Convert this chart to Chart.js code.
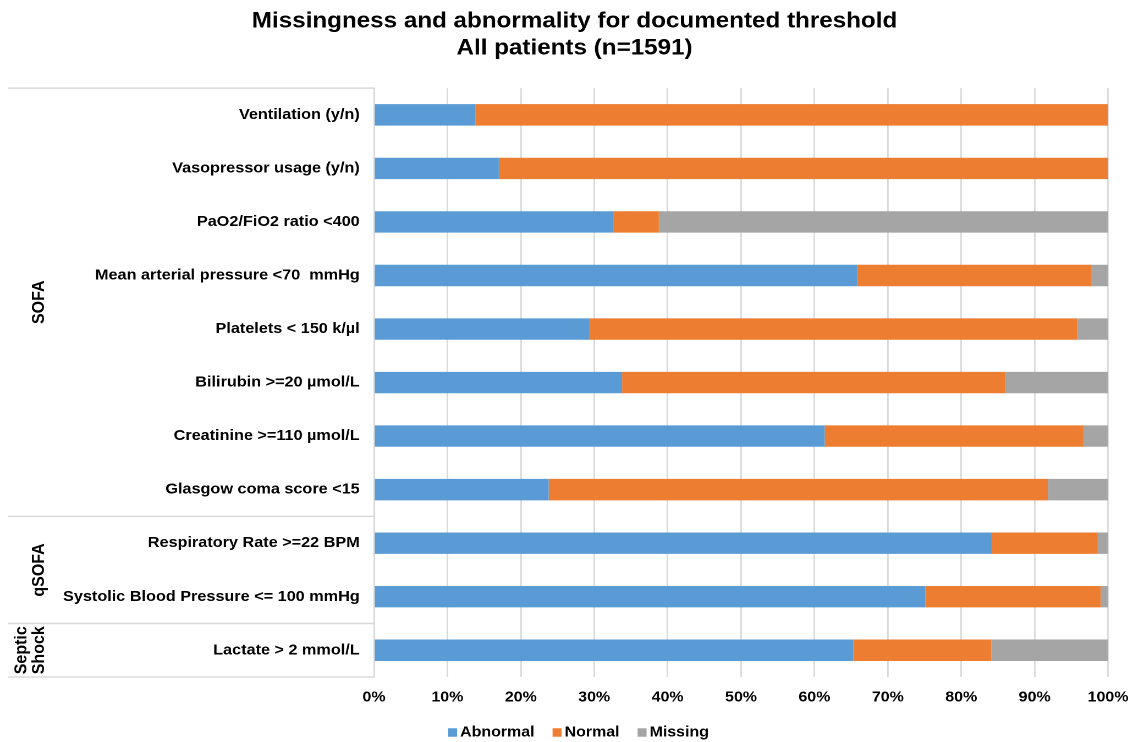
<!DOCTYPE html>
<html>
<head>
<meta charset="utf-8">
<script src="https://cdn.jsdelivr.net/npm/chart.js@4"></script>
<style>
html,body{margin:0;padding:0;background:#fff;overflow:hidden;}
#wrap{width:1030px;height:742px;transform:scaleX(1.1);transform-origin:0 0;}
</style>
</head>
<body>
<div id="wrap"><canvas id="c"></canvas></div>
<script>
const categories = [
  'Ventilation (y/n)',
  'Vasopressor usage (y/n)',
  'PaO2/FiO2 ratio <400',
  'Mean arterial pressure <70  mmHg',
  'Platelets < 150 k/µl',
  'Bilirubin >=20 µmol/L',
  'Creatinine >=110 µmol/L',
  'Glasgow coma score <15',
  'Respiratory Rate >=22 BPM',
  'Systolic Blood Pressure <= 100 mmHg',
  'Lactate > 2 mmol/L'
];
const abnormal = [13.8, 17.0, 32.6, 65.9, 29.3, 33.8, 61.4, 23.8, 84.2, 75.1, 65.3];
const normal   = [86.2, 83.0,  6.2, 31.8, 66.5, 52.2, 35.3, 68.0, 14.4, 23.9, 18.8];
const missing  = [ 0.0,  0.0, 61.2,  2.3,  4.2, 14.0,  3.3,  8.2,  1.4,  1.0, 15.9];
const groupNames = [['SOFA'], ['qSOFA'], ['Septic', 'Shock']];
const groupSizes = [8, 2, 1];
const xTicks = [0,10,20,30,40,50,60,70,80,90,100];
const titleLines = ['Missingness and abnormality for documented threshold', 'All patients (n=1591)'];

const FONT = "'Liberation Sans', Arial, sans-serif";
const SX = 1.1;
const PAD_LEFT = 37.3;
const AXIS_LEFT = 340;

const groupPlugin = {
  id: 'groups',
  afterDraw(chart) {
    const ctx = chart.ctx;
    const y = chart.scales.y;
    const area = chart.chartArea;
    const step = y.getPixelForValue(1) - y.getPixelForValue(0);
    const x0 = 7.5, x1 = area.left;
    ctx.save();
    ctx.strokeStyle = '#d9d9d9';
    ctx.lineWidth = 1.5;
    let idx = 0;
    const bounds = [y.getPixelForValue(0) - step/2];
    groupSizes.forEach(s => { idx += s; bounds.push(y.getPixelForValue(idx - 1) + step/2); });
    bounds.forEach(b => {
      ctx.beginPath(); ctx.moveTo(x0, b); ctx.lineTo(x1, b); ctx.stroke();
    });
    ctx.fillStyle = '#000';
    ctx.font = "bold 16px " + FONT;
    ctx.textAlign = 'center';
    ctx.textBaseline = 'middle';
    for (let g = 0; g < groupNames.length; g++) {
      const cy = (bounds[g] + bounds[g+1]) / 2;
      const lines = groupNames[g];
      const lh = 16.4;
      const cx = 35.8 - (lines.length - 1) * lh;
      ctx.save();
      ctx.translate(cx, cy);
      ctx.rotate(-Math.PI/2);
      lines.forEach((t, i) => ctx.fillText(t, 0, i * lh));
      ctx.restore();
    }
    // legend
    ctx.font = "bold 14.5px " + FONT;
    ctx.textAlign = 'left';
    const boxW = 8.2, boxH = 8.5, gap = 2.7, spacing = 16.4;
    const items = chart.data.datasets.map(d => ({ label: d.label, color: d.backgroundColor, w: ctx.measureText(d.label).width }));
    let total = 0;
    items.forEach((it, i) => { total += boxW + gap + it.w + (i < items.length - 1 ? spacing : 0); });
    let x = 578.5 / SX - total / 2;
    const ly = 732.5;
    items.forEach(it => {
      ctx.fillStyle = it.color;
      ctx.fillRect(x, ly - boxH / 2, boxW, boxH);
      x += boxW + gap;
      ctx.fillStyle = '#000';
      ctx.fillText(it.label, x, ly);
      x += it.w + spacing;
    });
    ctx.restore();
  }
};

new Chart(document.getElementById('c'), {
  type: 'bar',
  data: {
    labels: categories,
    datasets: [
      { label: 'Abnormal', data: abnormal, backgroundColor: '#5B9BD5' },
      { label: 'Normal', data: normal, backgroundColor: '#ED7D31' },
      { label: 'Missing', data: missing, backgroundColor: '#A5A5A5' }
    ]
  },
  options: {
    indexAxis: 'y',
    responsive: true,
    maintainAspectRatio: false,
    animation: false,
    devicePixelRatio: 2,
    datasets: { bar: { barPercentage: 0.8, categoryPercentage: 0.5 } },
    layout: { padding: { left: PAD_LEFT, right: 22.7, top: 8, bottom: 0 } },
    plugins: {
      title: {
        display: true,
        text: titleLines,
        color: '#000',
        font: { family: FONT, size: 22, weight: 'bold', lineHeight: 1.23 },
        padding: { top: 0, bottom: 26 }
      },
      legend: { display: false },
      tooltip: { enabled: false }
    },
    scales: {
      x: {
        stacked: true,
        min: 0, max: 100,
        afterBuildTicks(scale) { scale.ticks = xTicks.map(v => ({ value: v })); },
        afterFit(scale) { scale.height = 65; scale.paddingRight = 0; scale.paddingLeft = 0; },
        ticks: {
          color: '#000',
          padding: 12,
          font: { family: FONT, size: 14.5, weight: 'bold' },
          callback: v => v + '%'
        },
        grid: { color: '#d9d9d9', lineWidth: 1.4, drawTicks: false },
        border: { display: false }
      },
      y: {
        stacked: true,
        afterFit(scale) { scale.width = AXIS_LEFT - PAD_LEFT; scale.paddingTop = 0; scale.paddingBottom = 0; },
        ticks: {
          color: '#000',
          padding: 13,
          font: { family: FONT, size: 14.75, weight: 'bold' }
        },
        grid: { display: false, drawTicks: false },
        border: { display: true, color: '#d9d9d9', width: 1.5 }
      }
    }
  },
  plugins: [groupPlugin]
});
</script>
</body>
</html>
